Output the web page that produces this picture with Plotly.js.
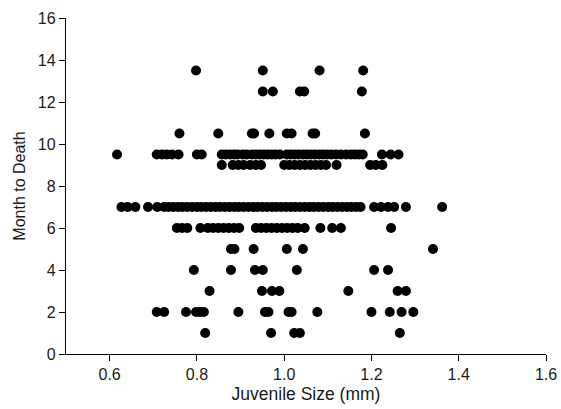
<!DOCTYPE html>
<html>
<head>
<meta charset="utf-8">
<script src="https://cdn.plot.ly/plotly-3.0.1.min.js"></script>
<style>html,body{margin:0;padding:0;background:#fff;}#chart{width:561px;height:409px;}</style>
</head>
<body>
<div id="chart"></div>
<script>
// Juvenile size (mm) per month-to-death row
const row13_5 = [0.798, 0.951, 1.081, 1.181];
const row12_5 = [0.951, 0.974, 1.036, 1.046, 1.178];
const row10_5 = [0.760, 0.849, 0.926, 0.931, 0.966, 1.006, 1.017, 1.065, 1.071, 1.185];
const row9_5 = [0.617, 0.708, 0.720, 0.731, 0.743, 0.758, 0.800, 0.811,
  0.857, 0.866, 0.876, 0.885, 0.893, 0.905, 0.914, 0.926, 0.935, 0.944, 0.953, 0.962, 0.971, 0.980, 0.990,
  1.006, 1.015, 1.024, 1.033, 1.043, 1.052, 1.061, 1.070, 1.080, 1.089, 1.098, 1.108, 1.119, 1.130, 1.142, 1.153, 1.162, 1.171, 1.180,
  1.224, 1.244, 1.262];
const row9 = [0.857, 0.882, 0.895, 0.907, 0.922, 0.935, 0.947,
  1.000, 1.012, 1.024, 1.036, 1.048, 1.060, 1.072, 1.084, 1.096, 1.120, 1.197, 1.210, 1.225];
const row7 = [0.627, 0.641, 0.659, 0.688, 0.709,
  0.725, 0.735, 0.746, 0.757, 0.767, 0.778, 0.789, 0.800, 0.810, 0.821, 0.832, 0.843, 0.853, 0.864, 0.875,
  0.886, 0.896, 0.907, 0.918, 0.929, 0.939, 0.950, 0.961, 0.972, 0.982, 0.993, 1.004, 1.015, 1.025, 1.036,
  1.047, 1.058, 1.068, 1.079, 1.090, 1.101, 1.111, 1.122, 1.133, 1.144, 1.154, 1.165, 1.175,
  1.206, 1.222, 1.238, 1.252, 1.279, 1.362];
const row6 = [0.754, 0.766, 0.778, 0.808, 0.825, 0.837, 0.849, 0.861, 0.873, 0.885, 0.897,
  0.935, 0.947, 0.959, 0.971, 0.983, 0.995, 1.007, 1.019, 1.031, 1.047, 1.083, 1.110, 1.130, 1.245];
const row5 = [0.878, 0.886, 0.930, 1.006, 1.043, 1.341];
const row4 = [0.793, 0.878, 0.933, 0.951, 1.029, 1.206, 1.238];
const row3 = [0.829, 0.949, 0.972, 0.989, 1.147, 1.260, 1.279];
const row2 = [0.708, 0.725, 0.775, 0.798, 0.807, 0.816, 0.895, 0.956, 0.964, 1.010, 1.017, 1.076, 1.200, 1.242, 1.269, 1.296];
const row1 = [0.819, 0.970, 1.023, 1.036, 1.265];

const rows = [
  [13.5, row13_5], [12.5, row12_5], [10.5, row10_5], [9.5, row9_5], [9, row9],
  [7, row7], [6, row6], [5, row5], [4, row4], [3, row3], [2, row2], [1, row1]
];
const xTicks = [0.6, 0.8, 1.0, 1.2, 1.4, 1.6];
const yTicks = [0, 2, 4, 6, 8, 10, 12, 14, 16];

const xs = [], ys = [];
rows.forEach(([m, arr]) => arr.forEach(v => { xs.push(v); ys.push(m); }));

const fam = 'Liberation Sans, Arial, sans-serif';
const tickFont = {family: fam, size: 16, color: '#1a1a1a'};
const xTitleFont = {family: fam, size: 17.5, color: '#1a1a1a'};
const yTitleFont = {family: fam, size: 16, color: '#1a1a1a'};

Plotly.newPlot('chart', [{
  x: xs, y: ys, type: 'scatter', mode: 'markers',
  marker: {color: '#000', size: 10, line: {width: 0}},
  hoverinfo: 'skip'
}], {
  width: 561, height: 409,
  margin: {l: 66, r: 15, t: 18, b: 55},
  paper_bgcolor: '#fff', plot_bgcolor: '#fff',
  showlegend: false,
  font: tickFont,
  xaxis: {
    range: [0.5, 1.6], tickvals: xTicks, ticktext: xTicks.map(v => v.toFixed(1)),
    showgrid: false, zeroline: false, showline: true, linecolor: '#000', linewidth: 1.2,
    ticks: 'outside', ticklen: 6, tickcolor: '#000', tickfont: tickFont,
    title: {text: 'Juvenile Size (mm)', font: xTitleFont, standoff: 5}
  },
  yaxis: {
    range: [0, 16], tickvals: yTicks,
    showgrid: false, zeroline: false, showline: true, linecolor: '#000', linewidth: 1.2,
    ticks: 'outside', ticklen: 6, tickcolor: '#000', tickfont: tickFont,
    title: {text: 'Month to Death', font: yTitleFont, standoff: 8}
  }
}, {displayModeBar: false, staticPlot: true});
</script>
</body>
</html>
